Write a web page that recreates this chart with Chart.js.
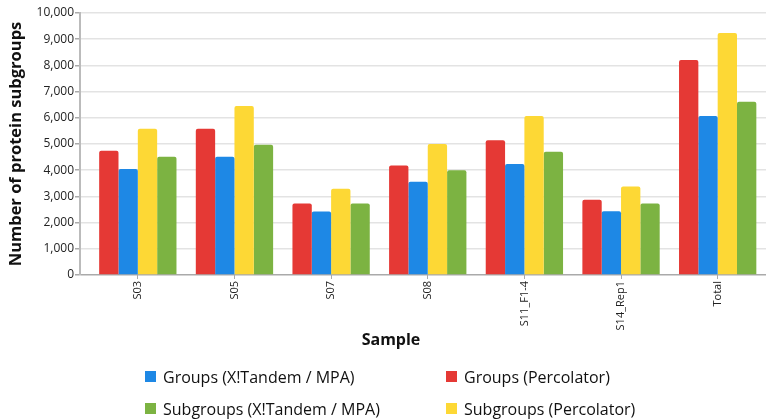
<!DOCTYPE html>
<html>
<head>
<meta charset="utf-8">
<script src="https://cdn.jsdelivr.net/npm/chart.js@4/dist/chart.umd.min.js"></script>
<style>
  html, body { margin: 0; padding: 0; background: #fff; }
  #wrap { position: relative; width: 769px; height: 419px; font-family: "Open Sans", sans-serif; }
  #legend { position: absolute; left: 0; top: 0; width: 769px; height: 419px; pointer-events: none; }
  .li { position: absolute; display: flex; align-items: center; font-size: 16px; color: #111; white-space: nowrap; line-height: 20px; }
  .li span.box { display: inline-block; width: 11px; height: 11px; margin-right: 7px; }
</style>
</head>
<body>
<div id="wrap">
  <canvas id="c" width="769" height="419"></canvas>
  <div id="legend"></div>
</div>
<script>
const categories = ["S03", "S05", "S07", "S08", "S11_F1-4", "S14_Rep1", "Total"];
const groupsPercolator = [4740, 5580, 2730, 4180, 5140, 2870, 8210];
const groupsXTandem = [4050, 4510, 2420, 3560, 4240, 2430, 6070];
const subgroupsPercolator = [5580, 6450, 3290, 5000, 6070, 3380, 9240];
const subgroupsXTandem = [4510, 4970, 2730, 4000, 4700, 2730, 6610];
const yTicks = [0, 1000, 2000, 3000, 4000, 5000, 6000, 7000, 8000, 9000, 10000];

const FONT = '"Open Sans", sans-serif';

const xShift = {
  id: 'xShift',
  afterLayout(chart) {
    const xs = chart.scales.x;
    const gap = 9.5;
    xs._startPixel += gap;
    xs._length -= gap;
    xs.left = 16;
  }
};

const mk = (label, data, color) => ({
  label, data,
  backgroundColor: color,
  borderColor: color,
  borderWidth: 0,
  borderRadius: { topLeft: 2, topRight: 2, bottomLeft: 0, bottomRight: 0 },
  borderSkipped: 'bottom',
  barPercentage: 1.0,
  categoryPercentage: 0.8
});

const chart = new Chart(document.getElementById('c'), {
  type: 'bar',
  data: {
    labels: categories,
    datasets: [
      mk('Groups (Percolator)', groupsPercolator, '#E53935'),
      mk('Groups (X!Tandem / MPA)', groupsXTandem, '#1E88E5'),
      mk('Subgroups (Percolator)', subgroupsPercolator, '#FDD835'),
      mk('Subgroups (X!Tandem / MPA)', subgroupsXTandem, '#7CB342')
    ]
  },
  plugins: [xShift],
  options: {
    responsive: false,
    animation: false,
    devicePixelRatio: 1,
    layout: { padding: { left: 0, top: 13, right: 3, bottom: 67 } },
    plugins: { legend: { display: false }, tooltip: { enabled: false } },
    scales: {
      x: {
        grid: { display: true, offset: false, drawOnChartArea: false, tickLength: 4, color: '#aaa', tickColor: '#aaa' },
        border: { display: false },
        ticks: {
          minRotation: 90, maxRotation: 90, padding: 2, autoSkip: false,
          color: '#222', font: { family: FONT, size: 11 }
        },
        title: {
          display: true, text: 'Sample', color: '#111',
          font: { family: FONT, size: 16, weight: 'bold' },
          padding: { top: 0, bottom: 2 }
        },
        afterFit(s) { s.height = 77; }
      },
      y: {
        min: 0, max: 10000,
        afterBuildTicks(s) { s.ticks = yTicks.map(v => ({ value: v })); },
        ticks: {
          padding: 1, color: '#222', font: { family: FONT, size: 12 },
          callback: v => v.toLocaleString('en-US')
        },
        grid: {
          tickLength: 5,
          color: c => (c.tick && c.tick.value === 0) ? '#aaa' : '#e3e3e3',
          lineWidth: 1.5,
          tickColor: '#aaa'
        },
        border: { display: true, color: '#bbb', width: 2 },
        title: {
          display: true, text: 'Number of protein subgroups', color: '#111',
          font: { family: FONT, size: 16.5, weight: 'bold' },
          padding: { top: 6, bottom: 0 }
        },
        afterFit(s) { s.width = 80; }
      }
    }
  }
});

// HTML legend built from the chart's datasets (two columns)
const legendOrder = [
  { ds: 1, x: 145, y: 376.5 },
  { ds: 0, x: 446, y: 376.5 },
  { ds: 3, x: 145, y: 408.5 },
  { ds: 2, x: 446, y: 408.5 }
];
const leg = document.getElementById('legend');
legendOrder.forEach(o => {
  const d = chart.data.datasets[o.ds];
  const el = document.createElement('div');
  el.className = 'li';
  el.style.left = o.x + 'px';
  el.style.top = (o.y - 10) + 'px';
  const b = document.createElement('span');
  b.className = 'box';
  b.style.background = d.backgroundColor;
  el.appendChild(b);
  el.appendChild(document.createTextNode(d.label));
  leg.appendChild(el);
});
</script>
</body>
</html>
